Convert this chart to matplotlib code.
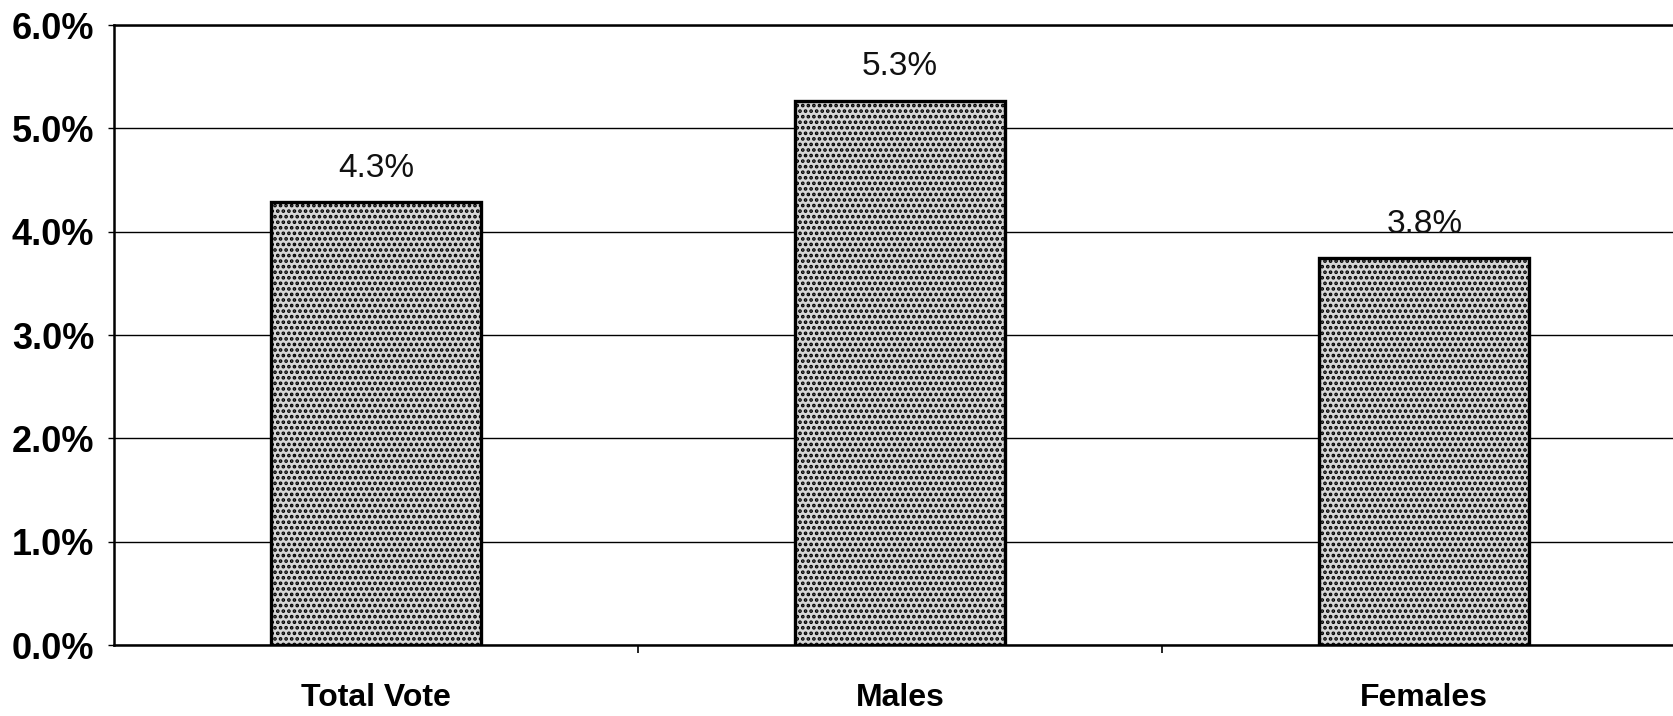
import matplotlib.pyplot as plt
from matplotlib.ticker import FuncFormatter, FixedLocator

# data
categories = ['Total Vote', 'Males', 'Females']
values = [4.29, 5.27, 3.75]
value_labels = ['4.3%', '5.3%', '3.8%']
y_ticks = [0, 1, 2, 3, 4, 5, 6]

plt.rcParams['font.family'] = ['Liberation Sans', 'DejaVu Sans']
plt.rcParams['hatch.linewidth'] = 1.8
plt.rcParams['hatch.color'] = '#505050'

fig = plt.figure(figsize=(16.73, 7.16), dpi=100)
ax = fig.add_axes([0.068, 0.099, 0.940, 0.866])

x = list(range(len(categories)))
bars = ax.bar(x, values, width=0.4, color='#d6d6d6', edgecolor='black',
              linewidth=2.4, hatch='...', zorder=3)

for b, lab in zip(bars, value_labels):
    ax.annotate(lab, (b.get_x() + b.get_width() / 2, b.get_height()),
                xytext=(0, 13), textcoords='offset points',
                ha='center', va='bottom', fontsize=24, color='#111111')

ax.set_xlim(-0.5, len(categories) - 0.5)
ax.set_ylim(0, 6)
ax.set_yticks(y_ticks)
ax.yaxis.set_major_formatter(FuncFormatter(lambda v, p: f'{v:.1f}%'))
ax.grid(axis='y', color='black', linewidth=1.0, zorder=0)

ax.set_xticks(x)
ax.set_xticklabels(categories, fontsize=23, fontweight='bold')
ax.tick_params(axis='x', which='major', length=0, pad=27)
ax.xaxis.set_minor_locator(FixedLocator([0.5, 1.5]))
ax.tick_params(axis='x', which='minor', length=6, width=1.2, direction='out')
ax.tick_params(axis='y', length=4, width=1.0, pad=10, labelsize=26)
for lab in ax.get_yticklabels():
    lab.set_fontweight('bold')

for side in ['left', 'bottom', 'top']:
    ax.spines[side].set_linewidth(1.8)
ax.spines['right'].set_visible(False)

fig.savefig('out.png', dpi=100)
